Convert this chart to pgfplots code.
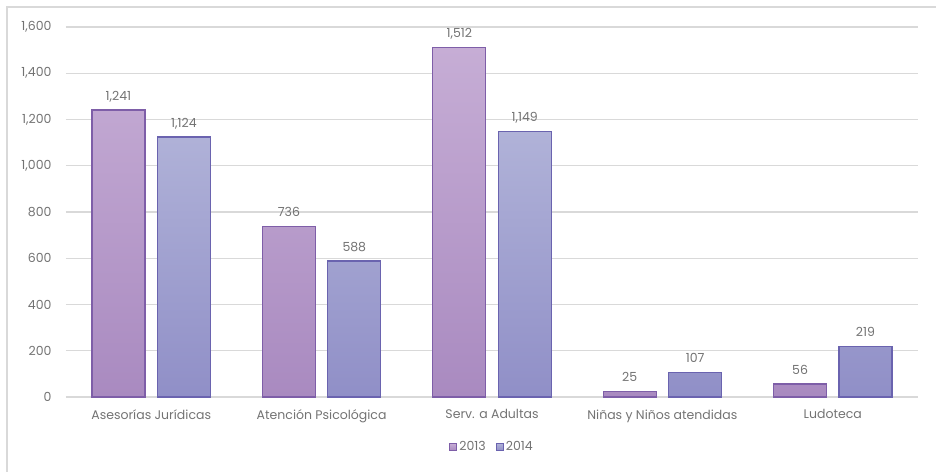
\documentclass[border=0pt]{standalone}
\usepackage{fontspec}
\setmainfont{Poppins}
\usepackage{pgfplots}
\pgfplotsset{compat=1.18}
\definecolor{txt}{HTML}{737373}
\definecolor{gridc}{HTML}{D9D9D9}
\definecolor{frame}{HTML}{D9D9D9}
\definecolor{c13t}{HTML}{C6ADD5}
\definecolor{c13b}{HTML}{A98AC0}
\definecolor{c13d}{HTML}{7E5EA8}
\definecolor{c14t}{HTML}{B0B2D8}
\definecolor{c14b}{HTML}{908FC7}
\definecolor{c14d}{HTML}{6A63AF}
\begin{document}
\begin{tikzpicture}[x=1pt,y=1pt]
\useasboundingbox (0,0) rectangle (936,471);
\draw[color=frame, line width=1.2pt] (7,-5) -- (7,464) -- (945,464);
\begin{axis}[
  at={(66pt,74pt)}, anchor=south west,
  width=852pt, height=370pt, scale only axis,
  ybar,
  xmin=-0.5, xmax=4.5, ymin=0, ymax=1600,
  xtick={0,1,2,3,4},
  xticklabels={Asesorías Jurídicas, Atención Psicológica, Serv. a Adultas, Niñas y Niños atendidas, Ludoteca},
  ytick={0,200,...,1600},
  ymajorgrids,
  major grid style={color=gridc, line width=1.2pt},
  axis line style={draw=none},
  major tick length=0pt,
  /pgf/number format/.cd, 1000 sep={,}, assume math mode=true, /pgfplots/.cd,
  tick label style={font=\fontsize{12.5}{14}\selectfont, color=txt},
  yticklabel style={xshift=-11pt},
  xticklabel style={yshift=-9pt},
  nodes near coords,
  every node near coord/.append style={font=\fontsize{12.5}{14}\selectfont, color=txt, anchor=base, yshift=10pt, inner sep=0pt},
  legend style={at={(0.5,-0.135)}, anchor=center, draw=none, fill=none, font=\fontsize{12.5}{14}\selectfont, text=txt,
    /tikz/every even column/.append style={column sep=8pt}},
  legend columns=2,
  legend image code/.code={\draw[#1] (0pt,-3.5pt) rectangle (7pt,3.5pt);},
]
\addplot[ybar, bar width=0.311, bar shift=-0.192, draw=c13d, line width=1.2pt, top color=c13t, bottom color=c13b]
  coordinates {(0,1241) (1,736) (2,1512) (3,25) (4,56)};
\addplot[ybar, bar width=0.311, bar shift=0.192, draw=c14d, line width=1.2pt, top color=c14t, bottom color=c14b]
  coordinates {(0,1124) (1,588) (2,1149) (3,107) (4,219)};
\legend{2013,2014}
\end{axis}
\end{tikzpicture}
\end{document}
